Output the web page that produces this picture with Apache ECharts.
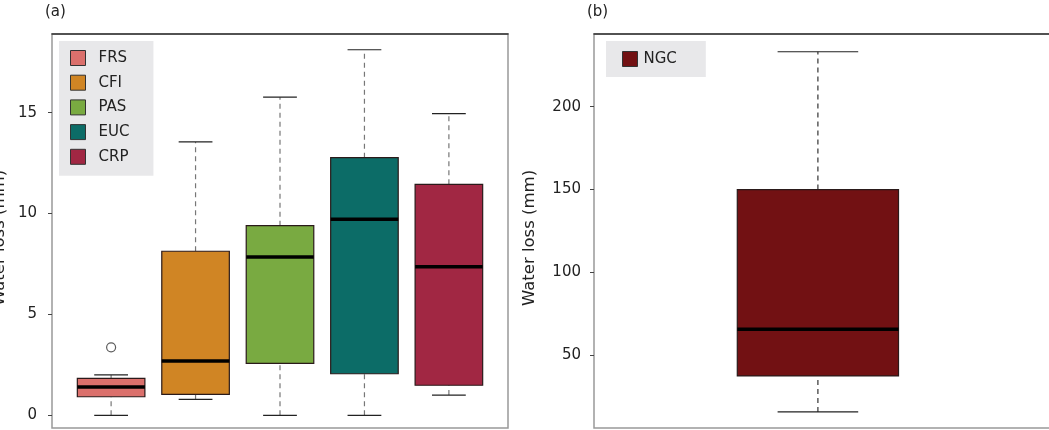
<!DOCTYPE html>
<html>
<head>
<meta charset="utf-8">
<script src="https://cdn.jsdelivr.net/npm/echarts@6/dist/echarts.min.js"></script>
<style>
    html, body { margin: 0; padding: 0; background: #fff; }
    #myChart { width: 1049px; height: 430px; }
</style>
</head>
<body>
<div id="myChart"></div>
<script>
// panel (a): one box per land use
var CATEGORIES_A = ['FRS', 'CFI', 'PAS', 'EUC', 'CRP'];
var COLORS_A = ['#db706c', '#d08524', '#79aa41', '#0c6c67', '#a12743'];
// [low whisker, q1, median, q3, high whisker]
var BOX_A = [
    [0, 0.92, 1.40, 1.83, 2.0],
    [0.79, 1.04, 2.69, 8.13, 13.55],
    [0, 2.57, 7.85, 9.40, 15.77],
    [0, 2.06, 9.72, 12.77, 18.12],
    [1.0, 1.49, 7.36, 11.45, 14.95]
];
// outliers: [category index, value]
var OUTLIERS_A = [[0, 3.37]];
var TICKS_A = [0, 5, 10, 15];

// panel (b)
var CATEGORIES_B = ['NGC'];
var COLORS_B = ['#721113'];
var BOX_B = [
    [15.8, 37.5, 65.7, 150, 233.2]
];
var TICKS_B = [50, 100, 150, 200];

var BOX_WIDTH_A = 0.8;
var CAP_WIDTH_A = 0.4;
var BOX_WIDTH_B = 0.36;
var CAP_WIDTH_B = 0.18;

var FONT = 'DejaVu Sans';

function makeBoxRenderer(boxWidth, capWidth, whiskerColor) {
    return function (params, api) {
        var x = api.value(0);
        var low = api.coord([x, api.value(1)]);
        var q1 = api.coord([x, api.value(2)]);
        var med = api.coord([x, api.value(3)]);
        var q3 = api.coord([x, api.value(4)]);
        var high = api.coord([x, api.value(5)]);
        var halfBox = api.size([boxWidth, 0])[0] / 2;
        var halfCap = api.size([capWidth, 0])[0] / 2;
        var cx = low[0];
        var dash = { stroke: whiskerColor, lineWidth: 1.2, lineDash: [5, 4] };
        var solid = { stroke: '#222', lineWidth: 1.2 };
        return {
            type: 'group',
            children: [{
                type: 'line',
                shape: { x1: cx, y1: q3[1], x2: cx, y2: high[1] },
                style: dash
            }, {
                type: 'line',
                shape: { x1: cx, y1: low[1], x2: cx, y2: q1[1] },
                style: dash
            }, {
                type: 'line',
                shape: { x1: cx - halfCap, y1: high[1], x2: cx + halfCap, y2: high[1] },
                style: solid
            }, {
                type: 'line',
                shape: { x1: cx - halfCap, y1: low[1], x2: cx + halfCap, y2: low[1] },
                style: solid
            }, {
                type: 'rect',
                shape: { x: cx - halfBox, y: q3[1], width: halfBox * 2, height: q1[1] - q3[1] },
                style: { fill: api.visual('color'), stroke: '#2a1a1a', lineWidth: 1.2 }
            }, {
                type: 'line',
                shape: { x1: cx - halfBox, y1: med[1], x2: cx + halfBox, y2: med[1] },
                style: { stroke: '#000', lineWidth: 3.5 }
            }]
        };
    };
}

function boxSeries(names, colors, boxes, index, boxWidth, capWidth, whiskerColor) {
    return names.map(function (name, i) {
        return {
            name: name,
            type: 'custom',
            xAxisIndex: index,
            yAxisIndex: index,
            itemStyle: { color: colors[i] },
            renderItem: makeBoxRenderer(boxWidth, capWidth, whiskerColor),
            encode: { x: 0, y: [1, 2, 3, 4, 5] },
            data: [[i + 1].concat(boxes[i])],
            z: 3
        };
    });
}

function yAxisFor(index, min, max, ticks, gap, labelMargin) {
    return {
        type: 'value',
        gridIndex: index,
        min: min,
        max: max,
        name: 'Water loss (mm)',
        nameLocation: 'middle',
        nameGap: gap,
        nameTextStyle: { fontFamily: FONT, fontSize: 16.5, color: '#222', padding: [0, 14, 0, 0] },
        axisLine: { show: false },
        axisTick: {
            show: true,
            length: 4,
            customValues: ticks,
            lineStyle: { color: '#444' }
        },
        axisLabel: {
            customValues: ticks,
            margin: labelMargin,
            fontFamily: FONT,
            fontSize: 15,
            color: '#222'
        },
        splitLine: { show: false }
    };
}

function xAxisFor(index, min, max) {
    return {
        type: 'value',
        gridIndex: index,
        position: 'top',
        min: min,
        max: max,
        axisLine: { show: true, onZero: false, lineStyle: { color: '#333', width: 1.5 } },
        axisTick: { show: false },
        axisLabel: { show: false },
        splitLine: { show: false }
    };
}

function legendFor(names, left, padding, textGap) {
    return {
        data: names,
        orient: 'vertical',
        left: left,
        top: 41,
        backgroundColor: '#e8e8ea',
        padding: padding,
        icon: 'rect',
        itemWidth: 15,
        itemHeight: 15,
        itemGap: 8.7,
        itemStyle: { borderColor: '#333', borderWidth: 1 },
        textStyle: { fontFamily: FONT, fontSize: 15, color: '#222', padding: [0, 0, 0, textGap] },
        selectedMode: false
    };
}

function makeOption() {
    var series = boxSeries(CATEGORIES_A, COLORS_A, BOX_A, 0, BOX_WIDTH_A, CAP_WIDTH_A, '#777')
        .concat(boxSeries(CATEGORIES_B, COLORS_B, BOX_B, 1, BOX_WIDTH_B, CAP_WIDTH_B, '#333'));
    series.push({
        type: 'scatter',
        xAxisIndex: 0,
        yAxisIndex: 0,
        symbol: 'circle',
        symbolSize: 9,
        itemStyle: { color: '#fff', borderColor: '#333', borderWidth: 1.2 },
        data: OUTLIERS_A.map(function (o) { return [o[0] + 1, o[1]]; }),
        z: 4
    });
    return {
        animation: false,
        backgroundColor: '#fff',
        title: [{
            text: '(a)',
            left: 40,
            top: 0,
            textStyle: { fontFamily: FONT, fontSize: 15, fontWeight: 'normal', color: '#222' }
        }, {
            text: '(b)',
            left: 582,
            top: 0,
            textStyle: { fontFamily: FONT, fontSize: 15, fontWeight: 'normal', color: '#222' }
        }],
        legend: [
            legendFor(CATEGORIES_A, 59, [9, 24, 11, 11], 8),
            legendFor(CATEGORIES_B, 606, [10, 29, 10, 16], 1)
        ],
        grid: [{
            left: 52, top: 34, right: 541, bottom: 2,
            outerBoundsMode: 'none',
            show: true, borderColor: '#999', borderWidth: 1.5
        }, {
            left: 594, top: 34, right: -4, bottom: 2,
            outerBoundsMode: 'none',
            show: true, borderColor: '#999', borderWidth: 1.5
        }],
        xAxis: [xAxisFor(0, 0.3, 5.7), xAxisFor(1, 0.5, 1.525)],
        yAxis: [
            yAxisFor(0, -0.63, 18.9, TICKS_A, 44, 15),
            yAxisFor(1, 6.1, 243.9, TICKS_B, 56, 13)
        ],
        series: series
    };
}

var myChart = echarts.init(document.getElementById('myChart'));
myChart.setOption(makeOption());
</script>
</body>
</html>
